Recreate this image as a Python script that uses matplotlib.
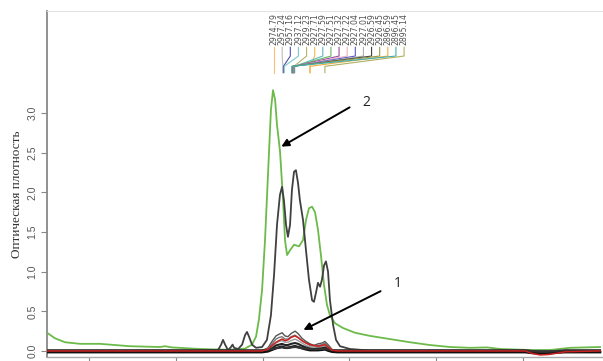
import numpy as np
import matplotlib.pyplot as plt

# spectrum 2 (green)
green_x = [2.58, 3.04, 3.62, 4.48, 5.63, 7.36, 9.09, 9.38, 9.78, 11.39, 13.10, 13.99,
           14.39, 14.62, 14.79, 14.97, 15.14, 15.31, 15.48, 15.60, 15.72, 15.83, 16.00,
           16.18, 16.29, 16.41, 16.58, 16.81, 17.10, 17.33, 17.50, 17.67, 17.85, 18.02,
           18.19, 18.36, 18.54, 18.71, 18.88, 19.17, 19.63, 20.32, 21.19, 22.34, 23.49,
           24.64, 25.80, 26.95, 27.93, 28.68, 30.40, 31.56, 32.71, 34.44]
green_y = [0.23, 0.16, 0.11, 0.09, 0.09, 0.06, 0.05, 0.06, 0.045, 0.025, 0.015, 0.03,
           0.08, 0.18, 0.40, 0.77, 1.40, 2.22, 3.04, 3.29, 3.17, 2.85, 2.53,
           1.90, 1.40, 1.21, 1.27, 1.34, 1.32, 1.40, 1.65, 1.80, 1.82, 1.75,
           1.53, 1.21, 0.83, 0.58, 0.45, 0.35, 0.29, 0.23, 0.19, 0.15, 0.11,
           0.075, 0.05, 0.04, 0.045, 0.025, 0.012, 0.012, 0.04, 0.05]

# dark spectrum
dark_x = [2.58, 11.39, 12.43, 12.61, 12.72, 12.84, 13.01, 13.18, 13.27, 13.36, 13.59,
          13.82, 13.99, 14.10, 14.22, 14.39, 14.62, 14.97, 15.25, 15.48, 15.66, 15.83,
          16.00, 16.12, 16.23, 16.35, 16.46, 16.58, 16.69, 16.81, 16.92, 17.04, 17.15,
          17.33, 17.50, 17.67, 17.85, 17.96, 18.08, 18.19, 18.31, 18.42, 18.54, 18.65,
          18.77, 18.88, 19.06, 19.23, 19.46, 20.03, 21.19, 34.44]
dark_y = [0.0, 0.005, 0.01, 0.08, 0.14, 0.08, 0.01, 0.05, 0.08, 0.04, 0.025,
          0.08, 0.20, 0.24, 0.18, 0.08, 0.04, 0.05, 0.14, 0.45, 0.96, 1.59,
          1.97, 2.07, 1.90, 1.59, 1.44, 1.59, 2.03, 2.26, 2.28, 2.12, 1.90,
          1.65, 1.27, 0.90, 0.64, 0.62, 0.74, 0.86, 0.81, 0.90, 1.08, 1.13,
          1.00, 0.64, 0.33, 0.14, 0.06, 0.025, 0.005, 0.0]

# group 1 spectra on a shared grid
grp_x = [2.58, 5.63, 9.09, 12.55, 14.27, 14.97, 15.31, 15.54, 15.77, 15.94, 16.12, 16.29,
         16.46, 16.64, 16.87, 17.04, 17.27, 17.50, 17.73, 17.96, 18.19, 18.42, 18.59,
         18.77, 19.00, 19.34, 20.03, 25.80, 30.12, 30.52, 30.98, 31.45, 31.91, 32.43, 34.44]
grp_1 = [0, 0, 0, 0, 0, 0.005, 0.04, 0.12, 0.19, 0.21, 0.23, 0.19, 0.18, 0.22, 0.25, 0.22,
         0.16, 0.12, 0.09, 0.07, 0.09, 0.10, 0.12, 0.08, 0.02, 0, 0, 0, 0, -0.02, -0.03,
         -0.025, -0.01, 0, 0]
grp_2 = [0, 0, 0, 0, 0, 0, 0.03, 0.09, 0.15, 0.17, 0.18, 0.15, 0.15, 0.18, 0.20, 0.17,
         0.13, 0.10, 0.07, 0.06, 0.07, 0.08, 0.10, 0.06, 0.015, 0, 0, 0, 0, -0.015, -0.02,
         -0.02, -0.01, 0, 0]
grp_red = [0, 0, 0, 0, 0, 0, 0.02, 0.07, 0.11, 0.13, 0.15, 0.13, 0.14, 0.17, 0.19, 0.17,
           0.13, 0.10, 0.08, 0.07, 0.06, 0.07, 0.08, 0.05, 0.01, 0, 0, 0, 0, -0.03, -0.05,
           -0.045, -0.03, -0.01, 0]
grp_3 = [0, 0, 0, 0, 0, 0, 0.02, 0.06, 0.10, 0.12, 0.13, 0.11, 0.11, 0.13, 0.15, 0.13,
         0.10, 0.07, 0.05, 0.05, 0.05, 0.06, 0.07, 0.05, 0.01, 0, 0, 0, 0, -0.01, -0.02,
         -0.015, 0, 0, 0]
grp_4 = [-0.01, -0.01, -0.01, -0.01, -0.01, -0.01, 0.005, 0.035, 0.07, 0.08, 0.09, 0.075,
         0.075, 0.09, 0.10, 0.09, 0.065, 0.045, 0.03, 0.025, 0.03, 0.035, 0.045, 0.025,
         0.0, -0.01, -0.01, -0.01, -0.01, -0.02, -0.03, -0.03, -0.02, -0.01, -0.01]
grp_5 = [-0.015, -0.015, -0.015, -0.015, -0.015, -0.015, -0.005, 0.015, 0.035, 0.045,
         0.055, 0.04, 0.04, 0.05, 0.06, 0.05, 0.035, 0.02, 0.01, 0.01, 0.01, 0.015, 0.02,
         0.005, -0.01, -0.015, -0.015, -0.015, -0.015, -0.025, -0.035, -0.03, -0.02,
         -0.015, -0.015]
grp_6 = [0.01, 0.01, 0.01, 0.01, 0.01, 0.01, 0.015, 0.025, 0.035, 0.04, 0.045, 0.04,
         0.04, 0.045, 0.05, 0.045, 0.035, 0.03, 0.025, 0.022, 0.022, 0.025, 0.03, 0.02,
         0.01, 0.01, 0.01, 0.01, 0.01, 0.0, -0.01, -0.01, 0.0, 0.01, 0.01]

# peak labels and the positions they point to
peak_labels = ["2974.79", "2957.24", "2957.16", "2937.12", "2929.23", "2927.71",
               "2927.59", "2927.51", "2927.32", "2927.22", "2927.04", "2927.01",
               "2926.59", "2926.45", "2896.59", "2896.45", "2895.14"]
peak_pos = [15.66, 16.17, 16.20, 16.25, 16.80, 17.73, 16.85, 16.82, 16.80, 16.78,
            16.76, 16.74, 16.72, 16.70, 17.73, 16.68, 18.59]
peak_colors = ["#f5c27a", "#bdbdbd", "#5050b0", "#80c8c8", "#b4b46a", "#f5b850",
               "#58bcbc", "#66b866", "#9a4a9a", "#e4b4c4", "#5858c8", "#b0b0b0",
               "#404040", "#9a9a50", "#f2ae40", "#40b0b0", "#b0b060"]

fig = plt.figure(figsize=(6.03, 3.61), dpi=100)
ax = fig.add_axes([47 / 603, 4 / 361, 1 - 47 / 603, 346 / 361])

ax.plot(green_x, green_y, color="#6cbb4a", lw=1.3, zorder=3)
ax.plot(dark_x, dark_y, color="#404040", lw=1.3, zorder=3)
for ys, c, w in [(grp_1, "#555555", 1.0), (grp_2, "#777777", 1.0), (grp_3, "#999999", 1.0),
                 (grp_4, "#222222", 1.5), (grp_5, "#111111", 1.8), (grp_6, "#333333", 1.5),
                 (grp_red, "#cc2020", 1.1)]:
    ax.plot(grp_x, ys, color=c, lw=w, zorder=4)

# peak label leaders above the spectra
label_x = np.linspace(15.66, 23.15, len(peak_labels))
for lx, tx, lab, c in zip(label_x, peak_pos, peak_labels, peak_colors):
    ax.plot([lx, lx, tx, tx], [3.83, 3.72, 3.59, 3.51], color=c, lw=0.8, zorder=2)
    ax.text(lx, 3.86, lab, rotation=90, ha="center", va="bottom", fontsize=5.6,
            color="#505050")

ax.annotate("", xy=(15.94, 2.56), xytext=(20.15, 3.09),
            arrowprops=dict(arrowstyle="-|>", color="black", lw=1.4, mutation_scale=11))
ax.text(20.73, 3.13, "2", fontsize=10, family="Open Sans", color="#222222",
        ha="left", va="center")
ax.annotate("", xy=(17.21, 0.25), xytext=(21.94, 0.77),
            arrowprops=dict(arrowstyle="-|>", color="black", lw=1.4, mutation_scale=11))
ax.text(22.57, 0.845, "1", fontsize=10, family="Open Sans", color="#222222",
        ha="left", va="center")

ax.set_xlim(2.58, 34.61)
ax.set_ylim(-0.076, 4.288)
ax.set_xticks([5, 10, 15, 20, 25, 30])
ax.tick_params(axis="x", labelbottom=False, length=4, color="#888888")
ax.set_yticks([0, 0.5, 1.0, 1.5, 2.0, 2.5, 3.0])
ax.set_yticklabels(["0.0", "0.5", "1.0", "1.5", "2.0", "2.5", "3.0"], rotation=90,
                   va="center", family="Liberation Sans", fontsize=7.5, color="#555555")
ax.tick_params(axis="y", length=4, color="#888888", pad=3)
ax.set_ylabel("Оптическая плотность", family="Liberation Serif", fontsize=9.5,
              color="#333333")
ax.yaxis.set_label_coords(-0.043, 0.47)

ax.spines["right"].set_visible(False)
ax.spines["top"].set_color("#e2e2e2")
ax.spines["top"].set_linewidth(0.8)
ax.spines["left"].set_color("#888888")
ax.spines["left"].set_linewidth(1.3)
ax.spines["bottom"].set_color("#aaaaaa")
ax.spines["bottom"].set_linewidth(1.0)

plt.savefig("out.png", dpi=100)
plt.close()
